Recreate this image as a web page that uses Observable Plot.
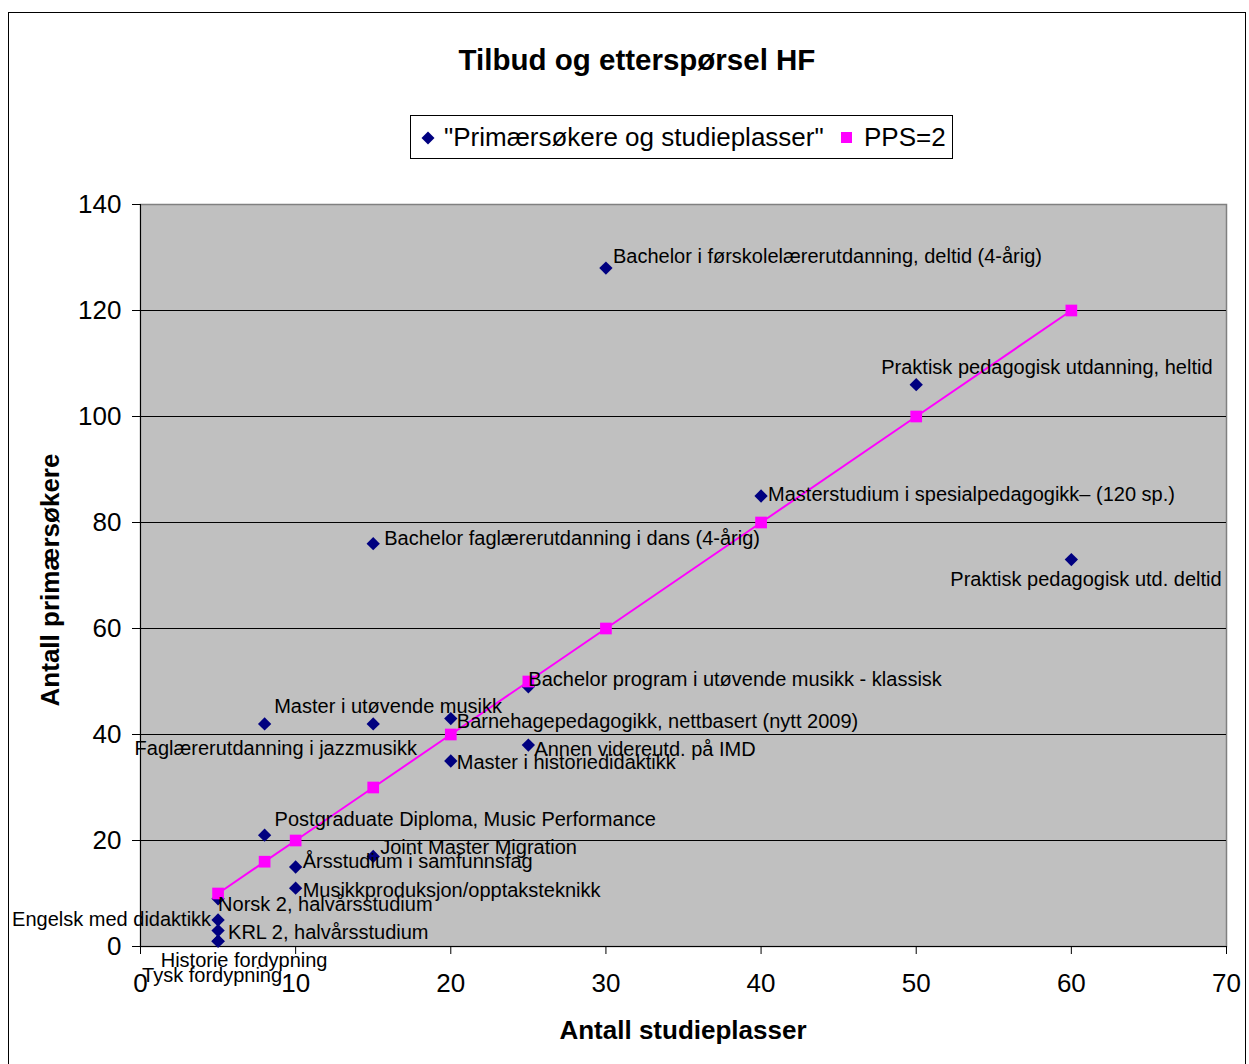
<!DOCTYPE html>
<html>
<head>
<meta charset="utf-8">
<script src="https://cdn.jsdelivr.net/npm/d3@7"></script>
<script src="https://cdn.jsdelivr.net/npm/@observablehq/plot@0.6"></script>
<style>
  html, body { margin: 0; padding: 0; background: #fff; overflow: hidden; }
  #wrap { position: relative; width: 1249px; height: 1064px; font-family: "Liberation Sans", Arial, sans-serif; color: #000; }
  #border { position: absolute; left: 8px; top: 12px; width: 1236px; height: 1100px; border: 1.5px solid #000; }
  #title { position: absolute; left: 0; width: 1274px; top: 40px; text-align: center; font-weight: bold; font-size: 29.5px; line-height: 40px; }
  #legend { position: absolute; left: 410px; top: 115px; width: 541px; height: 42px; border: 1px solid #000; background: #fff; font-size: 26px; line-height: 42px; white-space: nowrap; }
  #legend .item { position: absolute; top: 0; }
  #legend svg { position: absolute; }
  #ytitle { position: absolute; left: 50px; top: 580px; transform: translate(-50%, -50%) rotate(-90deg); font-weight: bold; font-size: 26px; white-space: nowrap; }
  #xtitle { position: absolute; left: 683px; top: 1030px; transform: translate(-50%, -50%); font-weight: bold; font-size: 26px; white-space: nowrap; }
  #chart { position: absolute; left: 0; top: 180px; }
</style>
</head>
<body>
<div id="wrap">
  <div id="border"></div>
  <div id="title">Tilbud og etterspørsel HF</div>
  <div id="legend"></div>
  <div id="chart"></div>
  <div id="ytitle">Antall primærsøkere</div>
  <div id="xtitle">Antall studieplasser</div>
</div>
<script>
// ---- data ----
const programmes = [
  "Bachelor i førskolelærerutdanning, deltid (4-årig)",
  "Praktisk pedagogisk utdanning, heltid",
  "Masterstudium i spesialpedagogikk– (120 sp.)",
  "Praktisk pedagogisk utd. deltid",
  "Bachelor faglærerutdanning i dans (4-årig)",
  "Bachelor program i utøvende musikk - klassisk",
  "Master i utøvende musikk",
  "Faglærerutdanning i jazzmusikk",
  "Barnehagepedagogikk, nettbasert (nytt 2009)",
  "Annen videreutd. på IMD",
  "Master i historiedidaktikk",
  "Postgraduate Diploma, Music Performance",
  "Joint Master Migration",
  "Årsstudium i samfunnsfag",
  "Musikkproduksjon/opptaksteknikk",
  "Norsk 2, halvårsstudium",
  "Engelsk med didaktikk",
  "KRL 2, halvårsstudium",
  "Historie fordypning",
  "Tysk fordypning"
];
const studyPlaces = [30, 50, 40, 60, 15, 25, 15, 8, 20, 25, 20, 8, 15, 10, 10, 5, 5, 5, 5, 5];
const applicants  = [128, 106, 85, 73, 76, 49, 42, 42, 43, 38, 35, 21, 17, 15, 11, 9, 5, 3, 1, 1];

const ppsPlaces     = [5, 8, 10, 15, 20, 25, 30, 40, 50, 60];
const ppsApplicants = [10, 16, 20, 30, 40, 50, 60, 80, 100, 120];

const xTicks = [0, 10, 20, 30, 40, 50, 60, 70];
const yTicks = [0, 20, 40, 60, 80, 100, 120, 140];

const seriesNames = ["\"Primærsøkere og studieplasser\"", "PPS=2"];

// label placement (pixel offsets, styling only)
const labelPlacement = [
  {dx: 7, dy: -12, a: "start"},
  {dx: -35, dy: -17, a: "start"},
  {dx: 7, dy: -1, a: "start"},
  {dx: -121, dy: 20, a: "start"},
  {dx: 11, dy: -5, a: "start"},
  {dx: 0, dy: -7, a: "start"},
  {dx: -99, dy: -17, a: "start"},
  {dx: -130, dy: 25, a: "start"},
  {dx: 6, dy: 3, a: "start"},
  {dx: 6, dy: 4, a: "start"},
  {dx: 6, dy: 2, a: "start"},
  {dx: 10, dy: -16, a: "start"},
  {dx: 7, dy: -9, a: "start"},
  {dx: 7, dy: -5, a: "start"},
  {dx: 7, dy: 2, a: "start"},
  {dx: 0, dy: 6, a: "start"},
  {dx: -7, dy: 0, a: "end"},
  {dx: 10, dy: 2, a: "start"},
  {dx: 26, dy: 19, a: "middle"},
  {dx: -6, dy: 34, a: "middle"}
];

const points = programmes.map((name, i) => ({name, x: studyPlaces[i], y: applicants[i]}));
const pps = ppsPlaces.map((x, i) => ({x, y: ppsApplicants[i]}));

const NAVY = "#000080", PINK = "#FF00FF";

const labelMarks = points.map((p, i) => Plot.text([p], {
  x: "x", y: "y", text: "name",
  dx: labelPlacement[i].dx, dy: labelPlacement[i].dy,
  textAnchor: labelPlacement[i].a,
  fontSize: 20, fill: "#000"
}));

const chart = Plot.plot({
  width: 1249,
  height: 884,
  marginLeft: 140,
  marginRight: 23,
  marginTop: 24,
  marginBottom: 118,
  x: {domain: [0, 70]},
  y: {domain: [0, 140]},
  style: {fontFamily: "'Liberation Sans', Arial, sans-serif", background: "transparent", color: "#000", overflow: "visible"},
  marks: [
    Plot.frame({fill: "#C0C0C0", stroke: "#808080", strokeWidth: 1.5}),
    Plot.gridY(yTicks.slice(1, -1), {stroke: "#000", strokeOpacity: 1, strokeWidth: 1}),
    Plot.axisY(yTicks, {tickSize: 8, tickPadding: 11, fontSize: 26, label: null, stroke: "#000", strokeWidth: 1}),
    Plot.axisX(xTicks, {tickSize: 8, tickPadding: 19, fontSize: 26, label: null, stroke: "#000", strokeWidth: 1}),
    Plot.ruleX([0], {stroke: "#000", strokeWidth: 1}),
    Plot.ruleY([0], {stroke: "#000", strokeWidth: 1}),
    Plot.dot(points, {x: "x", y: "y", symbol: "diamond2", r: 6.0, fill: NAVY, stroke: "none"}),
    Plot.line(pps, {x: "x", y: "y", stroke: PINK, strokeWidth: 2}),
    Plot.dot(pps, {x: "x", y: "y", symbol: "square", r: 6.6, fill: PINK, stroke: "none"}),
    ...labelMarks
  ]
});
document.getElementById("chart").appendChild(chart);

// legend
const legend = document.getElementById("legend");
legend.innerHTML =
  `<svg style="left:10px;top:15px" width="14" height="14"><path d="M7,0.5L13.5,7L7,13.5L0.5,7Z" fill="${NAVY}"/></svg>` +
  `<span class="item" style="left:33px">${seriesNames[0]}</span>` +
  `<svg style="left:430px;top:16px" width="11" height="11"><rect width="11" height="11" fill="${PINK}"/></svg>` +
  `<span class="item" style="left:453px">${seriesNames[1]}</span>`;
</script>
</body>
</html>
